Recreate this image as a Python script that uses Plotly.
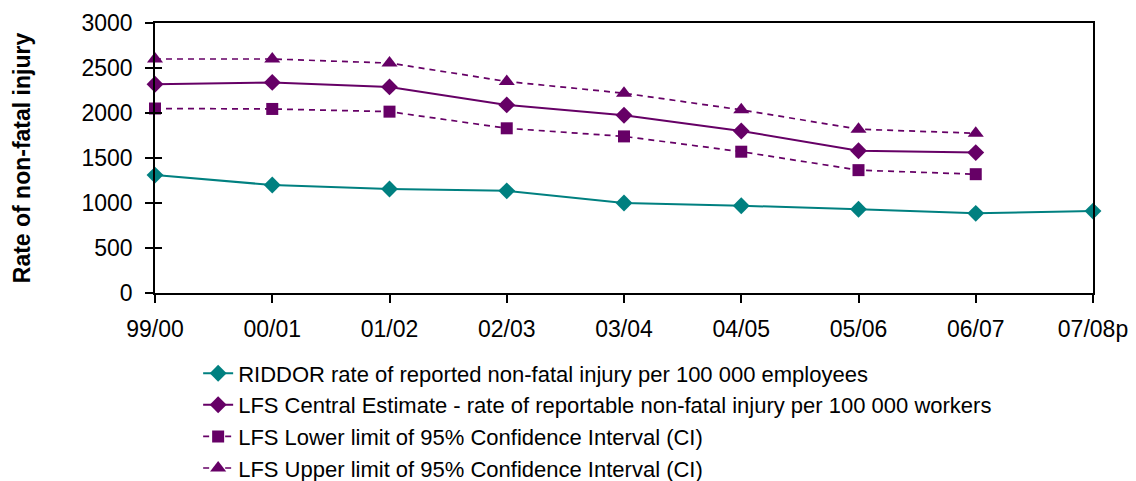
import plotly.graph_objects as go

years = ["99/00", "00/01", "01/02", "02/03", "03/04", "04/05", "05/06", "06/07", "07/08p"]
riddor = [1310, 1200, 1155, 1135, 1000, 970, 930, 885, 910]
lfs_central = [2320, 2340, 2290, 2090, 1975, 1800, 1580, 1560]
lfs_lower = [2050, 2045, 2015, 1830, 1740, 1570, 1365, 1320]
lfs_upper = [2600, 2600, 2555, 2350, 2220, 2035, 1820, 1775]
y_ticks = [0, 500, 1000, 1500, 2000, 2500, 3000]

names = [
    "RIDDOR rate of reported non-fatal injury per 100 000 employees",
    "LFS Central Estimate - rate of reportable non-fatal injury per 100 000 workers",
    "LFS Lower limit of 95% Confidence Interval (CI)",
    "LFS Upper limit of 95% Confidence Interval (CI)",
]

TEAL = "#008080"
PURPLE = "#660066"
FONT = "Liberation Sans, Arial, sans-serif"
FS = 23
LEG_FS = 22

fig = go.Figure()
fig.add_trace(go.Scatter(x=years, y=riddor, name=names[0], mode="lines+markers",
                         line=dict(color=TEAL, width=2),
                         marker=dict(symbol="diamond", size=13, color=TEAL),
                         cliponaxis=False))
fig.add_trace(go.Scatter(x=years[:len(lfs_central)], y=lfs_central, name=names[1], mode="lines+markers",
                         line=dict(color=PURPLE, width=2),
                         marker=dict(symbol="diamond", size=13, color=PURPLE),
                         cliponaxis=False))
fig.add_trace(go.Scatter(x=years[:len(lfs_lower)], y=lfs_lower, name=names[2], mode="lines+markers",
                         line=dict(color=PURPLE, width=1.7, dash="6px,5px"),
                         marker=dict(symbol="square", size=12, color=PURPLE),
                         cliponaxis=False))
fig.add_trace(go.Scatter(x=years[:len(lfs_upper)], y=lfs_upper, name=names[3], mode="lines+markers",
                         line=dict(color=PURPLE, width=1.7, dash="6px,5px"),
                         marker=dict(symbol="triangle-up", size=14, color=PURPLE),
                         cliponaxis=False))
# invisible trace for overlay y-axis (inside ticks so the ticks cross the axis)
fig.add_trace(go.Scatter(x=years, y=[None] * len(years), yaxis="y2", showlegend=False,
                         hoverinfo="skip", mode="lines"))

fig.update_layout(
    width=1136, height=481,
    margin=dict(l=155, r=43, t=23, b=188, autoexpand=False),
    paper_bgcolor="white", plot_bgcolor="white",
    font=dict(family=FONT, size=FS, color="black"),
    xaxis=dict(
        type="category", range=[0, 8], showgrid=False, zeroline=False, automargin=False,
        showline=True, linecolor="black", linewidth=1.5, mirror=True,
        ticks="outside", ticklen=8, tickcolor="black", tickwidth=1.5, ticklabelstandoff=7,
        tickfont=dict(size=FS, family=FONT, color="black"),
    ),
    yaxis=dict(
        range=[0, 3000], tickvals=y_ticks, showgrid=False, zeroline=False, automargin=False,
        showline=True, linecolor="black", linewidth=1.5, mirror=True,
        ticks="outside", ticklen=8, tickcolor="black", tickwidth=1.5, ticklabelstandoff=8,
        tickfont=dict(size=FS, family=FONT, color="black"),
        title=dict(text="<b>Rate of non-fatal injury</b>", font=dict(size=FS, family=FONT, color="black"),
                   standoff=44),
    ),
    yaxis2=dict(
        overlaying="y", side="left", anchor="x", range=[0, 3000], tickvals=y_ticks,
        showgrid=False, zeroline=False, showline=False, showticklabels=False,
        ticks="inside", ticklen=7, tickcolor="black", tickwidth=1.5,
    ),
    legend=dict(
        x=0.046, y=-0.22, xanchor="left", yanchor="top", orientation="v",
        font=dict(size=LEG_FS, family=FONT, color="black"), tracegroupgap=0,
        bgcolor="rgba(0,0,0,0)", itemwidth=30,
    ),
    showlegend=True,
)

fig.write_html(
    "out.html",
    config={"displayModeBar": False},
    post_script="document.body.style.margin='0';document.body.style.overflow='hidden';",
)
